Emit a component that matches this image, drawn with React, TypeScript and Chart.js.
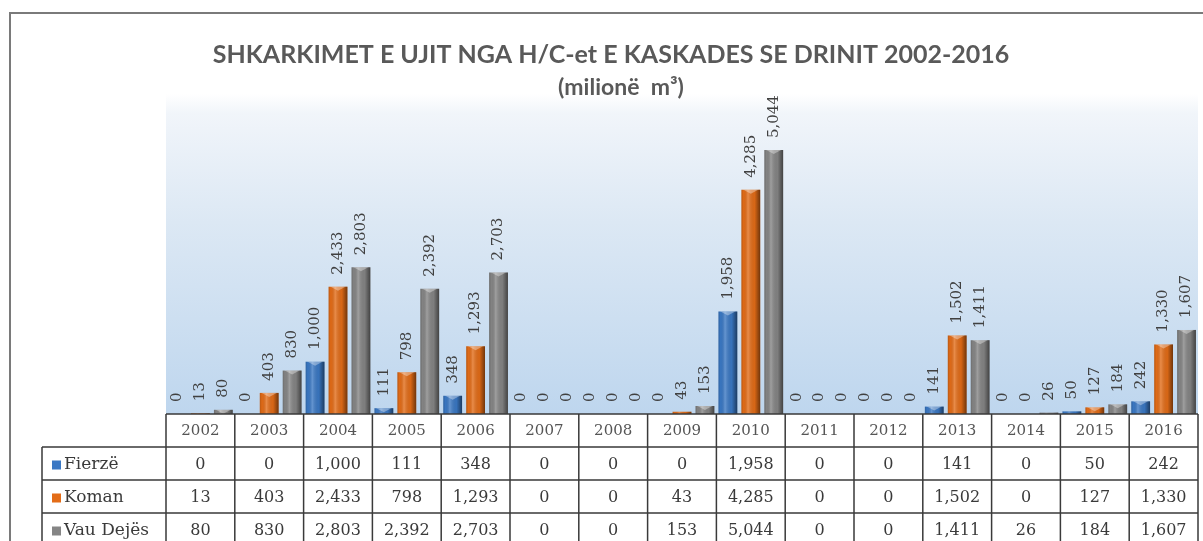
import React, { useEffect, useRef } from 'react';
import { Chart, registerables } from 'chart.js';

Chart.register(...registerables);

const years = ['2002', '2003', '2004', '2005', '2006', '2007', '2008', '2009', '2010', '2011', '2012', '2013', '2014', '2015', '2016'];
const fierze = [0, 0, 1000, 111, 348, 0, 0, 0, 1958, 0, 0, 141, 0, 50, 242];
const koman = [13, 403, 2433, 798, 1293, 0, 0, 43, 4285, 0, 0, 1502, 0, 127, 1330];
const vauDejes = [80, 830, 2803, 2392, 2703, 0, 0, 153, 5044, 0, 0, 1411, 26, 184, 1607];
const seriesNames = ['Fierzë', 'Koman', 'Vau Dejës'];
const seriesColors = ['#3a78c4', '#e36c17', '#858585'];
const titleLines = ['SHKARKIMET E UJIT NGA H/C-et E KASKADES SE DRINIT 2002-2016', '(milionë  m³)'];
const yMax = 6000;

const fmt = (v: number) => v.toLocaleString('en-US');

const decorPlugin = {
  id: 'decor',
  beforeDraw(chart: any) {
    const ctx = chart.ctx;
    const { left, right, top, bottom } = chart.chartArea;
    ctx.save();
    ctx.fillStyle = '#ffffff';
    ctx.fillRect(0, 0, chart.width, chart.height);
    // outer frame
    ctx.strokeStyle = '#7a7a7a';
    ctx.lineWidth = 2;
    ctx.beginPath();
    ctx.moveTo(10, chart.height + 5);
    ctx.lineTo(10, 13);
    ctx.lineTo(chart.width + 5, 13);
    ctx.stroke();
    // plot gradient
    const g = ctx.createLinearGradient(0, top - 6, 0, bottom);
    g.addColorStop(0, 'rgba(255,255,255,1)');
    g.addColorStop(0.06, '#f1f5fa');
    g.addColorStop(0.4, '#dce8f4');
    g.addColorStop(1, '#bed6ee');
    ctx.fillStyle = g;
    ctx.fillRect(left, top - 6, right - left, bottom - top + 6);
    // title
    ctx.fillStyle = '#595959';
    ctx.textAlign = 'center';
    ctx.textBaseline = 'middle';
    ctx.font = 'bold 25px Lato, "Open Sans", sans-serif';
    ctx.fillText(titleLines[0], 611, 55);
    ctx.font = 'bold 23px Lato, "Open Sans", sans-serif';
    ctx.fillText(titleLines[1], 621, 88);
    ctx.restore();
  },
  afterDatasetsDraw(chart: any) {
    const ctx = chart.ctx;
    const { left, right, bottom } = chart.chartArea;
    ctx.save();
    // bar shading + labels
    chart.data.datasets.forEach((ds: any, di: number) => {
      const meta = chart.getDatasetMeta(di);
      meta.data.forEach((bar: any, i: number) => {
        const p = bar.getProps(['x', 'y', 'base', 'width'], true);
        const x0 = p.x - p.width / 2;
        const h = p.base - p.y;
        if (h > 0.5) {
          const g = ctx.createLinearGradient(x0, 0, x0 + p.width, 0);
          g.addColorStop(0, 'rgba(0,0,0,0.18)');
          g.addColorStop(0.12, 'rgba(0,0,0,0.02)');
          g.addColorStop(0.35, 'rgba(255,255,255,0.22)');
          g.addColorStop(0.7, 'rgba(0,0,0,0.05)');
          g.addColorStop(1, 'rgba(0,0,0,0.5)');
          ctx.fillStyle = g;
          ctx.fillRect(x0, p.y, p.width, h);
          if (h > 4) {
            ctx.fillStyle = 'rgba(255,255,255,0.35)';
            ctx.beginPath();
            ctx.moveTo(x0 + 2, p.y);
            ctx.lineTo(p.x, p.y + 4);
            ctx.lineTo(x0 + p.width - 2, p.y);
            ctx.closePath();
            ctx.fill();
          }
        }
        const v = ds.data[i];
        ctx.save();
        ctx.translate(p.x, p.y - 12);
        ctx.rotate(-Math.PI / 2);
        ctx.fillStyle = '#404040';
        ctx.font = '15px "DejaVu Serif", serif';
        ctx.textAlign = 'left';
        ctx.textBaseline = 'middle';
        ctx.fillText(fmt(v), 0, 0);
        ctx.restore();
      });
    });
    // data table
    const n = years.length;
    const colW = (right - left) / n;
    const rowH = 33;
    const labelLeft = 42;
    const t0 = bottom;
    ctx.strokeStyle = '#3a3a3a';
    ctx.lineWidth = 1.5;
    ctx.beginPath();
    // horizontal lines
    ctx.moveTo(left, t0); ctx.lineTo(right, t0);
    for (let r = 1; r <= 3; r++) {
      ctx.moveTo(labelLeft, t0 + rowH * r);
      ctx.lineTo(right, t0 + rowH * r);
    }
    // vertical lines
    for (let c = 0; c <= n; c++) {
      const x = left + colW * c;
      ctx.moveTo(x, t0);
      ctx.lineTo(x, chart.height + 5);
    }
    ctx.moveTo(labelLeft, t0 + rowH);
    ctx.lineTo(labelLeft, chart.height + 5);
    ctx.stroke();

    ctx.textAlign = 'center';
    ctx.textBaseline = 'middle';
    const xs = chart.scales.x;
    ctx.font = '15px "DejaVu Serif", serif';
    ctx.fillStyle = '#555555';
    years.forEach((y, i) => {
      ctx.fillText(y, xs.getPixelForValue(i), t0 + rowH / 2 + 1);
    });
    ctx.font = '16px "DejaVu Serif", serif';
    ctx.fillStyle = '#3a3a3a';
    chart.data.datasets.forEach((ds: any, di: number) => {
      const cy = t0 + rowH * (di + 1) + rowH / 2 + 1;
      ds.data.forEach((v: number, i: number) => {
        ctx.fillText(fmt(v), xs.getPixelForValue(i), cy);
      });
    });
    ctx.textAlign = 'left';
    ctx.font = '17px "DejaVu Serif", serif';
    seriesNames.forEach((name, di) => {
      const cy = t0 + rowH * (di + 1) + rowH / 2 + 1;
      ctx.fillStyle = seriesColors[di];
      ctx.fillRect(52, cy - 4, 9, 9);
      ctx.fillStyle = '#3a3a3a';
      ctx.fillText(name, 64, cy);
    });
    ctx.restore();
  },
};

export default function App() {
  const ref = useRef<HTMLCanvasElement>(null);
  useEffect(() => {
    const canvas = ref.current;
    if (!canvas) return;
    const chart = new Chart(canvas, {
      type: 'bar',
      data: {
        labels: years,
        datasets: [
          { label: seriesNames[0], data: fierze, backgroundColor: seriesColors[0] },
          { label: seriesNames[1], data: koman, backgroundColor: seriesColors[1] },
          { label: seriesNames[2], data: vauDejes, backgroundColor: seriesColors[2] },
        ],
      },
      options: {
        responsive: false,
        animation: false,
        layout: { padding: { left: 166, right: 5, top: 100, bottom: 127 } },
        datasets: { bar: { barPercentage: 0.82, categoryPercentage: 1 } },
        scales: {
          x: { display: false },
          y: { display: false, min: 0, max: yMax },
        },
        plugins: {
          legend: { display: false },
          title: { display: false },
          tooltip: { enabled: false },
        },
      },
      plugins: [decorPlugin],
    });
    return () => chart.destroy();
  }, []);
  return (
    <div style={{ position: 'fixed', left: 0, top: 0, width: 1203, height: 541, background: '#fff' }}>
      <canvas ref={ref} width={1203} height={541} style={{ display: 'block' }} />
    </div>
  );
}
